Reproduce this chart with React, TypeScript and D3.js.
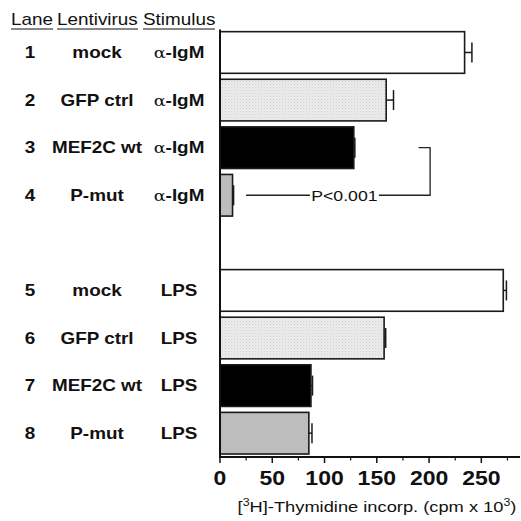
import React from 'react';
import * as d3 from 'd3';

// lanes, top to bottom (a blank slot separates the two stimuli)
const lanes = ['1', '2', '3', '4', '5', '6', '7', '8'];
const lentivirus = ['mock', 'GFP ctrl', 'MEF2C wt', 'P-mut', 'mock', 'GFP ctrl', 'MEF2C wt', 'P-mut'];
const stimulus = ['α-IgM', 'α-IgM', 'α-IgM', 'α-IgM', 'LPS', 'LPS', 'LPS', 'LPS'];
const values = [234, 159, 128, 12, 271, 157, 87, 85];
const errors = [7, 7, 1, 1, 3, 1.5, 1.5, 3];
const slots = ['1', '2', '3', '4', 'gap', '5', '6', '7', '8'];
const ticks = [0, 50, 100, 150, 200, 250];
const minorTicks = [25, 75, 125, 175, 225, 275];

const fills = ['#ffffff', 'url(#dots)', '#000000', '#bdbdbd'];
const SX = 1.18; // the original type is a bit wide
const FONT = 'Liberation Sans, Arial, sans-serif';

function T({ x, y, anchor = 'middle', size = 16, weight = 'normal', children }: any) {
  return (
    <text transform={`translate(${x},${y}) scale(${SX},1)`} textAnchor={anchor}
      fontSize={size} fontWeight={weight} fontFamily={FONT} fill="#111">
      {children}
    </text>
  );
}

function Stim({ s }: { s: string }) {
  if (s.startsWith('α')) {
    return (
      <>
        <tspan fontFamily="DejaVu Serif, Liberation Serif, serif" fontWeight="normal" fontSize={15}>α</tspan>
        <tspan>{s.slice(1)}</tspan>
      </>
    );
  }
  return <>{s}</>;
}

export default function App() {
  const W = 521, H = 521;
  const x = d3.scaleLinear().domain([0, 287]).range([220, 520]);
  const y = d3.scaleBand().domain(slots).range([28.7, 457]).paddingInner(0.125).paddingOuter(0.0625);
  const axisY = 457;
  const bh = y.bandwidth();
  const cy = (l: string) => (y(l) as number) + bh / 2;

  return (
    <svg width={W} height={H} style={{ position: 'absolute', left: 0, top: 0, background: '#fff' }}>
      <defs>
        <pattern id="dots" width="3" height="3" patternUnits="userSpaceOnUse">
          <rect width="3" height="3" fill="#ececec" />
          <rect x="0" y="0" width="1" height="1" fill="#cfcfcf" />
          <rect x="1.5" y="1.5" width="1" height="1" fill="#d8d8d8" />
        </pattern>
      </defs>

      {/* column headers */}
      <T x={11} y={25} anchor="start">Lane</T>
      <T x={57} y={25} anchor="start">Lentivirus</T>
      <T x={143} y={25} anchor="start">Stimulus</T>
      <line x1={11} x2={53} y1={29} y2={29} stroke="#111" strokeWidth={1} />
      <line x1={57} x2={138} y1={29} y2={29} stroke="#111" strokeWidth={1} />
      <line x1={143} x2={215} y1={29} y2={29} stroke="#111" strokeWidth={1} />

      {lanes.map((l, i) => (
        <g key={l}>
          <T x={30} y={cy(l) + 5.5} weight="bold">{l}</T>
          <T x={97} y={cy(l) + 5.5} weight="bold">{lentivirus[i]}</T>
          <T x={179} y={cy(l) + 5.5} weight="bold"><Stim s={stimulus[i]} /></T>
          <rect x={x(0)} y={y(l)} width={x(values[i]) - x(0)} height={bh}
            fill={fills[i % 4]} stroke="#1a1a1a" strokeWidth={1.6} />
          <line x1={x(values[i])} x2={x(values[i] + errors[i])} y1={cy(l)} y2={cy(l)}
            stroke="#1a1a1a" strokeWidth={1.5} />
          <line x1={x(values[i] + errors[i])} x2={x(values[i] + errors[i])}
            y1={cy(l) - 10} y2={cy(l) + 10} stroke="#1a1a1a" strokeWidth={1.5} />
        </g>
      ))}

      {/* significance bracket between lanes 3 and 4 */}
      <g stroke="#222" strokeWidth={1.3} fill="none">
        <polyline points={`${x(190)},${cy('3')} ${x(201)},${cy('3')} ${x(201)},${cy('4')} ${x(152)},${cy('4')}`} />
        <line x1={x(25)} x2={x(86)} y1={cy('4')} y2={cy('4')} />
      </g>
      <T x={x(119)} y={cy('4') + 5.5} size={15}>P&lt;0.001</T>

      {/* axes */}
      <line x1={x(0)} x2={x(0)} y1={29.5} y2={axisY} stroke="#111" strokeWidth={2} />
      <line x1={x(0) - 1} x2={x(287)} y1={axisY} y2={axisY} stroke="#111" strokeWidth={2} />
      {ticks.map(t => (
        <g key={t}>
          <line x1={x(t)} x2={x(t)} y1={axisY} y2={axisY + 6} stroke="#111" strokeWidth={1.5} />
          <T x={x(t)} y={485} size={19.5} weight="bold">{t}</T>
        </g>
      ))}
      {minorTicks.map(t => (
        <line key={t} x1={x(t)} x2={x(t)} y1={axisY} y2={axisY + 3.5} stroke="#111" strokeWidth={1.2} />
      ))}
      <T x={377} y={512} size={15.5}>
        [<tspan dy={-6} fontSize={10.5}>3</tspan><tspan dy={6}>H]-Thymidine incorp. (cpm x 10</tspan>
        <tspan dy={-6} fontSize={10.5}>3</tspan><tspan dy={6}>)</tspan>
      </T>
    </svg>
  );
}
